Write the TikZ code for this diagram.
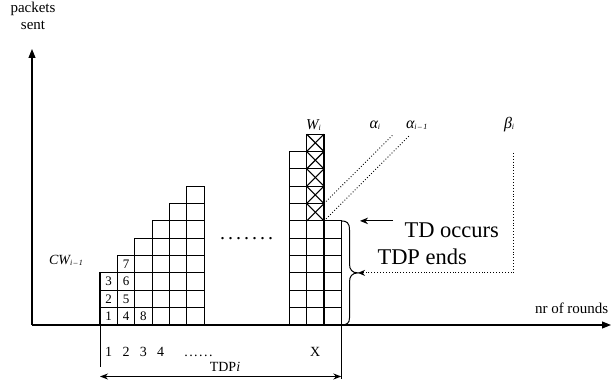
\documentclass[tikz,border=0pt]{standalone}
\usepackage{fontspec}
\setmainfont{Liberation Serif}
\usetikzlibrary{arrows.meta}
\newcommand{\fs}[1]{\fontsize{#1}{#1}\selectfont}
\begin{document}
\begin{tikzpicture}[x=1pt,y=-1pt,
  cellbox/.style={draw=black,line width=1.1pt},
  axisline/.style={line width=1.1pt,-{Triangle[length=9pt,width=7pt]}},
  lbl/.style={inner sep=0pt,outer sep=0pt,anchor=base},
  dotline/.style={dotted,line width=0.9pt},
  sarrow/.style={line width=1pt,-{Stealth[length=8pt,width=6.5pt]}}]
\useasboundingbox (0,0) rectangle (613,387);
\def\cs{17.35}
% axes
\coordinate (O) at (32,325);
\coordinate (Ytop) at (32,49);
\coordinate (Xend) at (611,325);
\draw[axisline] (O) -- (Ytop);
\draw[axisline] (O) -- (Xend);
\node[lbl] (packets) at (33,12.7) {\fs{15}packets};
\node[lbl] (sent) at (33,29.3) {\fs{15}sent};
\node[lbl,anchor=base west] (rounds) at (535,313) {\fs{15}nr of rounds};
% left staircase
\foreach \c [evaluate=\c as \h using int(3+\c)] in {0,...,5}{
  \foreach \r in {1,...,\h}{
    \draw[cellbox] (100+\c*\cs,325-\r*\cs) rectangle ++(\cs,\cs);
  }
}
\foreach \c/\r/\t in {0/1/1,0/2/2,0/3/3,1/1/4,1/2/5,1/3/6,1/4/7,2/1/8}{
  \node[inner sep=0pt] (n\t) at (100+\c*\cs+0.5*\cs,325-\r*\cs+0.5*\cs) {\fs{13}\t};
}
% right group
\foreach \r in {1,...,10}{\draw[cellbox] (289.3,325-\r*\cs) rectangle ++(\cs,\cs);}
\foreach \r in {1,...,6}{\draw[cellbox] (289.3+2*\cs,325-\r*\cs) rectangle ++(\cs,\cs);}
\foreach \r in {1,...,11}{\draw[cellbox] (289.3+\cs,325-\r*\cs) rectangle ++(\cs,\cs);}
\foreach \r in {7,...,11}{
  \draw[line width=1.1pt] (289.3+\cs,325-\r*\cs) -- ++(\cs,\cs);
  \draw[line width=1.1pt] (289.3+2*\cs,325-\r*\cs) -- ++(-\cs,\cs);
}
% dots between groups
\node[lbl] (gap) at (246.5,239.5) {\fs{20}.\kern3pt.\kern3pt.\kern3pt.\kern3pt.\kern3pt.\kern3pt.};
% top labels
\node[lbl,anchor=base west] (Wi) at (306.2,129.3) {\fs{15}\itshape W\raisebox{-1pt}{\fs{8}i}};
\node[lbl,anchor=base west] (ai) at (369.5,129) {\fs{16}\itshape α\raisebox{-1pt}{\fs{8}i}};
\node[lbl,anchor=base west] (ai1) at (406,129) {\fs{16}\itshape α\raisebox{-1pt}{\fs{8}i\,–\,1}};
\node[lbl,anchor=base west] (bi) at (504,129) {\fs{16}\itshape β\raisebox{-1pt}{\fs{8}i}};
\node[lbl,anchor=base west] (cw) at (49,265) {\fs{14}\itshape CW\raisebox{-1pt}{\fs{8}i\,–\,1}};
% alpha dotted lines
\coordinate (a1s) at (324,{325-7*\cs});
\coordinate (a1e) at (392.3,135.5);
\coordinate (a2s) at (324,{325-6*\cs});
\coordinate (a2e) at (410,134.9);
\draw[dotline] (a1s) -- (a1e);
\draw[dotline] (a2s) -- (a2e);
% TD occurs
\coordinate (tdS) at (393,{325-6*\cs});
\coordinate (tdE) at (360,{325-6*\cs});
\draw[sarrow] (tdS) -- (tdE);
\node[lbl,anchor=base west] (tdocc) at (404.5,237.3) {\fs{22.5}TD occurs};
\node[lbl,anchor=base west] (tdpend) at (377.5,265) {\fs{22.5}TDP ends};
% brace
\coordinate (brTop) at (341.3,{325-6*\cs});
\coordinate (brTip) at (358,272.9);
\coordinate (brBot) at (341.3,325);
\draw[line width=1pt] (brTop) .. controls (347,220.9) and (349.5,223) .. (349.5,230)
  -- (349.5,264) .. controls (349.5,269.5) and (352,272.9) .. (brTip)
  .. controls (352,272.9) and (349.5,276.5) .. (349.5,282)
  -- (349.5,318) .. controls (349.5,323) and (347,325) .. (brBot);
% beta dotted arrow
\coordinate (bS) at (513.3,153);
\draw[dotline,-{Stealth[length=7pt,width=6pt]}] (bS) |- (brTip);
% bottom labels
\foreach \c/\t in {0/1,1/2,2/3,3/4}{
  \node[lbl] (r\t) at (100+\c*\cs+0.5*\cs,356.7) {\fs{14}\t};
}
\node[lbl] (rdots) at (198.5,356.7) {\fs{14}.\kern1.5pt.\kern1.5pt.\kern1.5pt.\kern1.5pt.\kern1.5pt.};
\node[lbl] (xlab) at (315.3,356.3) {\fs{14}X};
\coordinate (L0) at (100,325);
\coordinate (L1) at (100,367);
\coordinate (R0) at (341.3,325);
\coordinate (R1) at (341.3,378.5);
\draw[line width=1pt] (L0) -- (L1);
\draw[line width=1pt] (R0) -- (R1);
\coordinate (tl) at (100,376.5);
\coordinate (tr) at (341.3,376.5);
\draw[line width=1pt,{Stealth[length=8pt,width=6pt]}-{Stealth[length=8pt,width=6pt]}] (tl) -- (tr);
\node[lbl] (tdpi) at (225,371) {\fs{14}TDP\textit{i}};
\end{tikzpicture}
\end{document}
